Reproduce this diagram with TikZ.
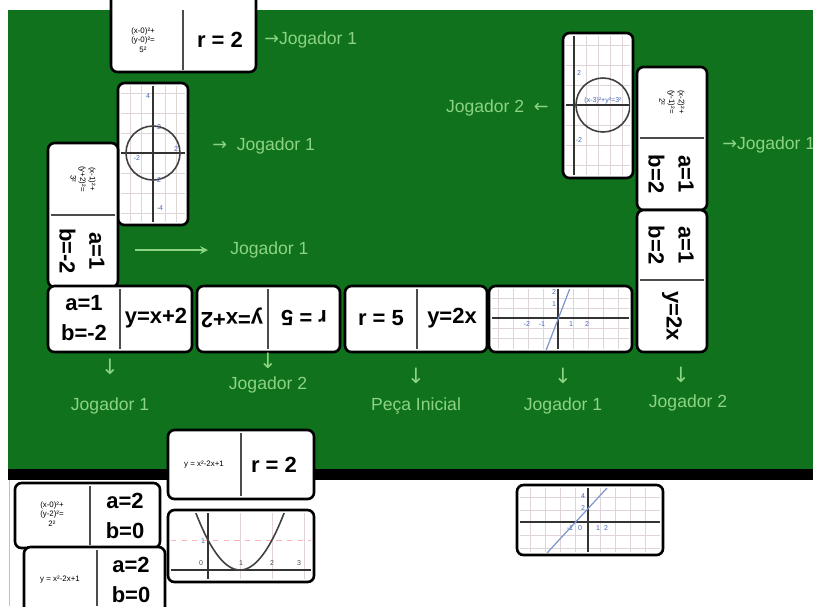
\documentclass[tikz,border=0pt]{standalone}
\usepackage{fontspec}
\setmainfont{Liberation Sans}
\newfontfamily\setas{DejaVu Sans}
\usepackage{tikz}
\usetikzlibrary{positioning, arrows}
\definecolor{mesa}{RGB}{16,114,28}
\definecolor{verdeclaro}{RGB}{140,212,132}
\definecolor{grade}{RGB}{222,212,218}
\definecolor{azul}{RGB}{70,105,185}
\tikzset{>=stealth,
peca/.style={draw=black, line width=1.5pt, fill=white, rounded corners=0.13cm},
divisor/.style={draw=black!70, line width=0.6pt},
valor/.style={font=\fontsize{12.5}{17}\selectfont\bfseries, align=center, inner sep=0pt},
formula/.style={font=\fontsize{4.5}{5.5}\selectfont, align=center, inner sep=0pt},
jogada/.style={text=verdeclaro, font=\fontsize{10}{12}\selectfont, inner sep=0pt},
baixo/.style={text=verdeclaro, font=\setas\fontsize{12}{12}\selectfont, inner sep=0pt},
seta/.style={->, draw=verdeclaro, line width=1pt, shorten >=0.44cm},
grade/.style={draw=grade, line width=0.5pt},
eixo/.style={draw=black!80, line width=1pt},
curva/.style={draw=black!75, line width=0.9pt},
reta/.style={draw=azul!70, line width=0.7pt},
rotulo/.style={text=azul, font=\fontsize{4}{4}\selectfont, inner sep=0pt},
}

\begin{document}
\begin{tikzpicture}[x=0.02cm, y=-0.02cm]
\useasboundingbox (0,0) rectangle (813,606);
\clip (0,0) rectangle (813,606);
\fill[white] (0,0) rectangle (813,606);
\fill[mesa] (8,10) rectangle (813,470);
\fill[black] (8,469) rectangle (813,480);
\draw[black!25] (9,480) -- (9,606);

% peca do topo
\draw[peca] (111,-10) rectangle (256,72);
\draw[divisor] (183,10) -- (183,70);
\node[formula] (f1) at (143,40) {(x-0)²+\\(y-0)²=\\5²};
\node[valor] (v1) at (220,40) {r = 2};
\node[jogada, anchor=west] (lj1) at (264,40) {{\setas →}Jogador 1};

% circulo na vertical
\draw[peca] (118,83) rectangle (188,225);
\begin{scope}
\clip (121,86) rectangle (185,222);
\foreach \gx in {130,141,165,176} \draw[grade] (\gx,86) -- (\gx,222);
\foreach \gy in {93,113,133,173,193,213} \draw[grade] (121,\gy) -- (185,\gy);
\draw[eixo] (153,86) -- (153,222);
\draw[eixo] (121,153) -- (185,153);
\draw[curva] (153,153) circle[radius=27];
\end{scope}
\node[rotulo] (c1) at (148,96) {4};
\node[rotulo] (c2) at (159,127) {2};
\node[rotulo] (c3) at (176,149) {2};
\node[rotulo] (c4) at (137,158) {-2};
\node[rotulo] (c5) at (158,180) {-2};
\node[rotulo] (c6) at (160,208) {-4};
\node[jogada, anchor=west] (lj2) at (212,146) {{\setas →} \ Jogador 1};

% peca vertical da esquerda
\draw[peca] (48,143) rectangle (118,287);
\draw[divisor] (51,215) -- (115,215);
\node[formula, rotate=-90] (f2) at (83,179) {(x-1)²+\\(y+2)²=\\3²};
\node[valor, rotate=-90] (v2) at (82,251) {a=1\\b=-2};
\coordinate (s1) at (135,250);
\node[jogada, anchor=west] (lj3) at (230,250) {Jogador 1};
\draw[seta] (s1) -- (lj3.west);

% fila de pecas
\draw[peca] (48,286) rectangle (192,352);
\draw[divisor] (120,289) -- (120,349);
\node[valor] (v3) at (84,318) {a=1\\b=-2};
\node[valor] (v4) at (156,318) {y=x+2};

\draw[peca] (197,286) rectangle (340,352);
\draw[divisor] (268,289) -- (268,349);
\node[valor, rotate=180] (v5) at (232,318) {y=x+2};
\node[valor, rotate=180] (v6) at (304,318) {r = 5};

\draw[peca] (345,286) rectangle (487,352);
\draw[divisor] (417,289) -- (417,349);
\node[valor] (v7) at (381,318) {r = 5};
\node[valor] (v8) at (452,318) {y=2x};

\draw[peca] (489,286) rectangle (632,352);
\begin{scope}
\clip (492,289) rectangle (629,349);
\foreach \gx in {498,513,528,543,573,588,603,618} \draw[grade] (\gx,289) -- (\gx,349);
\foreach \gy in {298,308,328,338} \draw[grade] (492,\gy) -- (629,\gy);
\draw[eixo] (492,318) -- (629,318);
\draw[eixo] (558,289) -- (558,349);
\draw[reta] (545,353) -- (572,283);
\end{scope}
\node[rotulo] (g1) at (527,324) {-2};
\node[rotulo] (g2) at (542,324) {-1};
\node[rotulo] (g3) at (571,324) {1};
\node[rotulo] (g4) at (587,324) {2};
\node[rotulo] (g5) at (554,292) {2};
\node[rotulo] (g6) at (554,304) {1};

% coluna da direita
\draw[peca] (637,67) rectangle (707,210);
\draw[divisor] (640,138) -- (704,138);
\node[formula, rotate=-90] (f3) at (672,102) {(x-2)²+\\(y-1)²=\\2²};
\node[valor, rotate=-90] (v9) at (671,174) {a=1\\b=2};

\draw[peca] (637,210) rectangle (707,352);
\draw[divisor] (640,280) -- (704,280);
\node[valor, rotate=-90] (v10) at (671,245) {a=1\\b=2};
\node[valor, rotate=-90] (v11) at (672,316) {y=2x};

\draw[peca] (563,33) rectangle (633,178);
\begin{scope}
\clip (566,36) rectangle (630,175);
\foreach \gx in {586,598,610,622} \draw[grade] (\gx,36) -- (\gx,175);
\foreach \gy in {45,65,85,125,145,165} \draw[grade] (566,\gy) -- (630,\gy);
\draw[eixo] (574,36) -- (574,175);
\draw[eixo] (566,105) -- (630,105);
\draw[curva] (603,105) circle[radius=27];
\end{scope}
\node[rotulo] (c7) at (579,73) {2};
\node[rotulo] (c8) at (603,101) {(x-3)²+y²=3²};
\node[rotulo] (c9) at (579,140) {-2};
\node[jogada, anchor=east] (lj4) at (549,108) {Jogador 2 \ {\setas ←}};
\node[jogada, anchor=west] (lj5) at (722,145) {{\setas →}Jogador 1};

% quem jogou cada peca
\node[baixo] (d1) at (110,367) {↓};
\node[jogada, below=0.45cm of d1] (j1) {Jogador 1};
\node[baixo] (d2) at (268,361) {↓};
\node[jogada, below=0.15cm of d2] (j2) {Jogador 2};
\node[baixo] (d3) at (416,376) {↓};
\node[jogada, below=0.26cm of d3] (j3) {Peça Inicial};
\node[baixo] (d4) at (563,376) {↓};
\node[jogada, below=0.26cm of d4] (j4) {Jogador 1};
\node[baixo] (d5) at (681,375) {↓};
\node[jogada, below=0.22cm of d5, xshift=0.14cm] (j5) {Jogador 2};

% pecas na mao
\draw[peca] (168,430) rectangle (314,499);
\draw[divisor] (241,433) -- (241,496);
\node[formula] (f4) at (204,465) {y = x²-2x+1};
\node[valor] (v12) at (274,465) {r = 2};

\draw[peca] (168,510) rectangle (314,582);
\begin{scope}
\clip (171,513) rectangle (311,579);
\foreach \gx in {240,272,304} \draw[grade] (\gx,513) -- (\gx,579);
\draw[red!30, dashed, line width=0.5pt] (171,540) -- (311,540);
\draw[eixo] (171,570) -- (311,570);
\draw[eixo] (208,513) -- (208,579);
\draw[curva] plot[domain=190:292, samples=40] (\x, {570-30*((\x-240)/32)^2});
\end{scope}
\node[rotulo, text=black!70] (p0) at (201,563) {0};
\node[rotulo, text=black!70] (p1) at (241,563) {1};
\node[rotulo, text=black!70] (p2) at (272,563) {2};
\node[rotulo, text=black!70] (p3) at (299,563) {3};
\node[rotulo] (p4) at (203,541) {1};

\draw[peca] (15,483) rectangle (160,548);
\draw[divisor] (90,486) -- (90,545);
\node[formula] (f5) at (52,514) {(x-0)²+\\(y-2)²=\\2²};
\node[valor] (v13) at (125,516) {a=2\\b=0};

\draw[peca] (24,547) rectangle (165,625);
\draw[divisor] (97,550) -- (97,606);
\node[formula] (f6) at (60,580) {y = x²-2x+1};
\node[valor] (v14) at (131,580) {a=2\\b=0};

\draw[peca] (517,485) rectangle (663,555);
\begin{scope}
\clip (520,488) rectangle (660,552);
\foreach \gx in {530,545,560,575,600,615,630,645} \draw[grade] (\gx,488) -- (\gx,552);
\foreach \gy in {497,510,535,548} \draw[grade] (520,\gy) -- (660,\gy);
\draw[eixo] (520,522) -- (660,522);
\draw[eixo] (588,488) -- (588,552);
\draw[reta] (547,553) -- (607,488);
\end{scope}
\node[rotulo] (g7) at (583,496) {4};
\node[rotulo] (g8) at (583,508) {2};
\node[rotulo] (g9) at (570,528) {-1};
\node[rotulo] (g10) at (580,528) {0};
\node[rotulo] (g11) at (598,528) {1};
\node[rotulo] (g12) at (606,528) {2};
\end{tikzpicture}
\end{document}
